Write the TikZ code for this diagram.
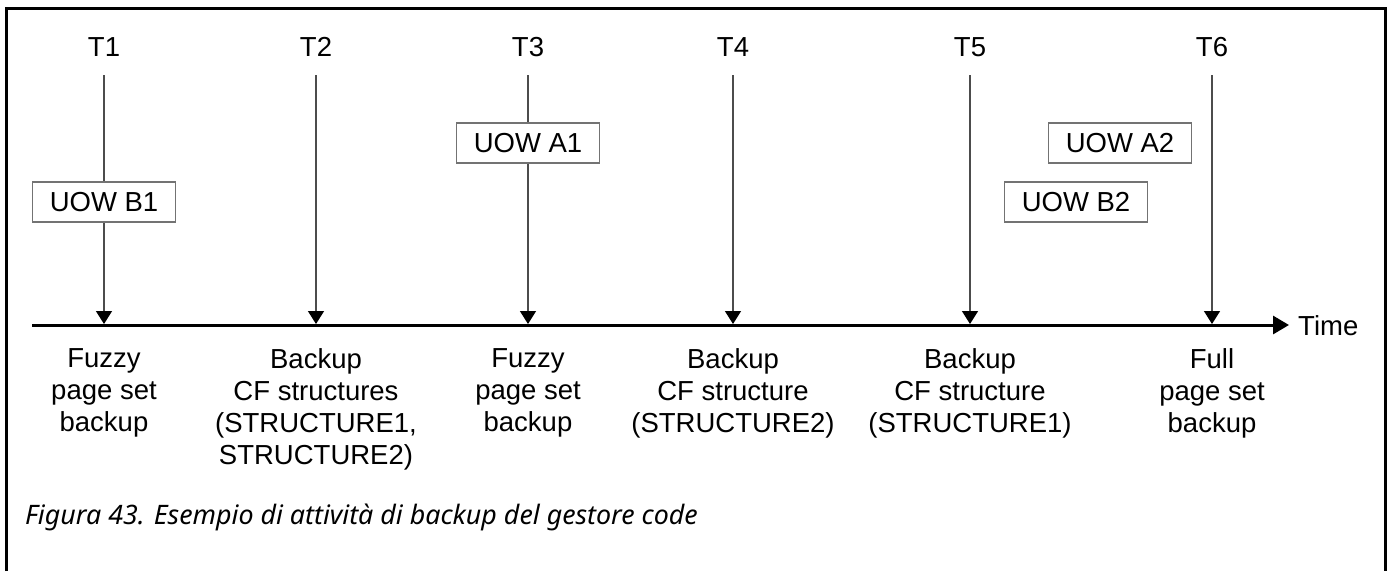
\documentclass[tikz,border=0pt]{standalone}
\usepackage{fontspec}
\setmainfont{Liberation Sans}
\newfontfamily\captionfont{Noto Sans}
\usetikzlibrary{arrows.meta}

\begin{document}
\begin{tikzpicture}[x=1pt, y=-1pt,
		>={Triangle[width=16pt,length=13pt,black]},   %Pfeilspitzen
		font=\fontsize{27.5}{32}\selectfont,
		tlabel/.style={anchor=base, inner sep=0pt},
		event/.style={draw=black!70, line width=1.4pt, shorten <=19pt},
		uow/.style={draw=black!55, line width=1.5pt, fill=white, minimum width=143pt, minimum height=40pt, inner sep=0pt},
		what/.style={anchor=north, align=center, inner sep=0pt}]
	\useasboundingbox (0,0) rectangle (1388,571);
	% Rahmen
	\draw[line width=3pt] (6,571) -- (6,8) -- (1385,8) -- (1385,571);
	% Zeitachse
	\coordinate (tstart) at (32,325);
	\coordinate (tend) at (1289,325);
	\draw[line width=3pt, -{Triangle[width=18pt,length=16pt]}] (tstart) -- (tend);
	\node[anchor=base west, inner sep=0pt] (time) at (1298,335) {Time};
	% Zeitpunkte T1 bis T6
	\foreach \x [count=\i] in {104,316,528,733,970,1212} {
		\node[tlabel] (t\i) at (\x,56) {T\i};
		\coordinate (b\i) at (\x,324);
		\draw[event,->] (t\i) -- (b\i);
	}
	% Aktivitaeten unter der Achse
	\foreach \i/\txt in {1/{Fuzzy\\page set\\backup},
			2/{Backup\\CF structures\\(STRUCTURE1,\\STRUCTURE2)},
			3/{Fuzzy\\page set\\backup},
			4/{Backup\\CF structure\\(STRUCTURE2)},
			5/{Backup\\CF structure\\(STRUCTURE1)},
			6/{Full\\page set\\backup}}
		\node[what, yshift=-24.5pt] (d\i) at (b\i) {\txt};
	% Units of work
	\node[uow] (uowB1) at (104,202) {UOW B1};
	\node[uow] (uowA1) at (528,143) {UOW A1};
	\node[uow] (uowA2) at (1120,143) {UOW A2};
	\node[uow] (uowB2) at (1076,202) {UOW B2};
	% Bildunterschrift
	\node[anchor=base west, inner sep=0pt, font=\captionfont\itshape\fontsize{26.8}{30}\selectfont] (caption) at (25,524) {Figura 43. Esempio di attività di backup del gestore code};
\end{tikzpicture}
\end{document}
